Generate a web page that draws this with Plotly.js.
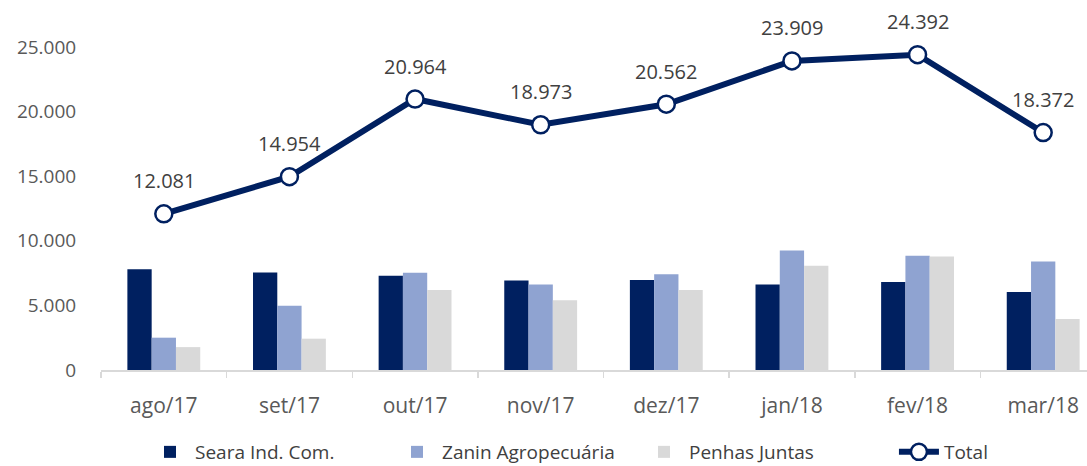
<!DOCTYPE html>
<html>
<head>
<meta charset="utf-8">
<script src="https://cdn.plot.ly/plotly-3.0.1.min.js"></script>
<style>
  html, body { margin: 0; padding: 0; background: #fff; overflow: hidden; }
  #chart { width: 1106px; height: 480px; }
</style>
</head>
<body>
<div id="chart"></div>
<script>
const categories = ['ago/17', 'set/17', 'out/17', 'nov/17', 'dez/17', 'jan/18', 'fev/18', 'mar/18'];
const seara  = [7786, 7552, 7292, 6927, 6969, 6606, 6813, 6036];
const zanin  = [2500, 4974, 7526, 6615, 7409, 9249, 8834, 8394];
const penhas = [1771, 2422, 6198, 5389, 6192, 8057, 8782, 3938];
const total  = [12081, 14954, 20964, 18973, 20562, 23909, 24392, 18372];
const yTicks = [0, 5000, 10000, 15000, 20000, 25000];

const NAVY = '#002060';
const FONT = 'Open Sans, Noto Sans, sans-serif';

const traces = [
  { type: 'bar', name: 'Seara Ind. Com.', x: categories, y: seara,
    marker: { color: NAVY }, hoverinfo: 'skip', legend: 'legend' },
  { type: 'bar', name: 'Zanin Agropecuária', x: categories, y: zanin,
    marker: { color: '#8FA3D1' }, hoverinfo: 'skip', legend: 'legend' },
  { type: 'bar', name: 'Penhas Juntas', x: categories, y: penhas,
    marker: { color: '#D9D9D9' }, hoverinfo: 'skip', legend: 'legend' },
  { type: 'scatter', mode: 'lines+markers', name: 'Total', x: categories, y: total,
    line: { color: NAVY, width: 6 },
    marker: { size: 17, color: '#ffffff', line: { color: NAVY, width: 2.5 } },
    hoverinfo: 'skip', cliponaxis: false, legend: 'legend2' }
];

const numFmt = v => v.toLocaleString('de-DE');
const annotations = categories.map((c, i) => ({
  x: c, y: total[i], xref: 'x', yref: 'y',
  text: numFmt(total[i]), showarrow: false, yshift: 33,
  font: { family: FONT, size: 20, color: '#404040' }
}));

const legendBase = {
  orientation: 'h', xanchor: 'left', y: -0.235, yanchor: 'middle',
  font: { family: FONT, size: 19, color: '#404040' },
  traceorder: 'normal', itemwidth: 40, bgcolor: 'rgba(0,0,0,0)'
};

const layout = {
  width: 1106, height: 480,
  margin: { l: 101, r: 0, t: 21, b: 110 },
  paper_bgcolor: '#ffffff', plot_bgcolor: '#ffffff',
  separators: ',.',
  font: { family: FONT, size: 18, color: '#595959' },
  barmode: 'group', bargap: 0.42, bargroupgap: 0,
  showlegend: true,
  annotations: annotations,
  legend: Object.assign({}, legendBase, { x: 0.0438, entrywidth: 192, entrywidthmode: 'pixels' }),
  legend2: Object.assign({}, legendBase, { x: 0.789 }),
  xaxis: {
    type: 'category', range: [-0.5, 7.5],
    showline: true, linecolor: '#D9D9D9', linewidth: 2,
    ticks: 'outside', tickson: 'boundaries', ticklen: 6, tickcolor: '#D9D9D9', tickwidth: 1.5,
    showgrid: false, zeroline: false,
    tickfont: { family: FONT, size: 21, color: '#595959' },
    ticklabelstandoff: 16
  },
  yaxis: {
    range: [0, 27000], tickvals: yTicks, tickformat: ',d',
    showgrid: false, zeroline: false, showline: false,
    ticks: 'outside', ticklen: 20, tickcolor: 'rgba(0,0,0,0)',
    tickfont: { family: FONT, size: 19, color: '#595959' }
  }
};

Plotly.newPlot('chart', traces, layout, { displayModeBar: false, staticPlot: true });
</script>
</body>
</html>
